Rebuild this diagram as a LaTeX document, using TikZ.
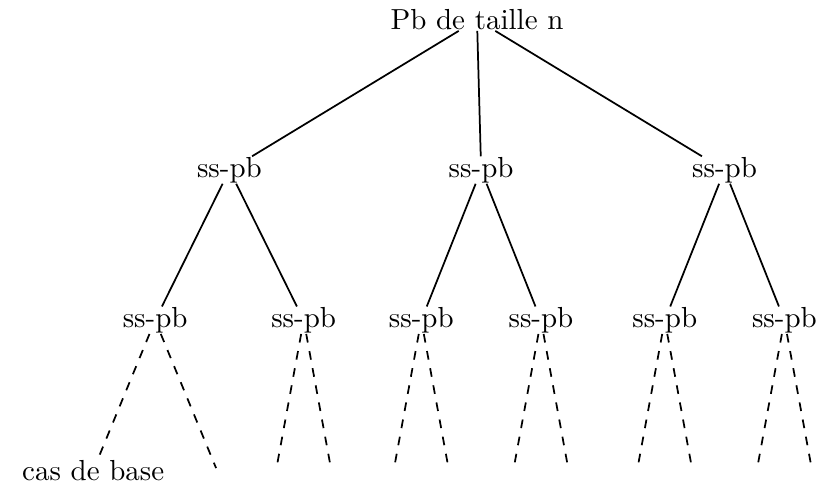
\documentclass[tikz,border=0pt]{standalone}
\usepackage{tikz}

\begin{document}
\begin{tikzpicture}[level distance=1.82cm, semithick,
	every node/.style = {inner sep=0pt},
	level 1/.style = {sibling distance=3cm},
	level 2/.style = {sibling distance=1.45cm},
	level 3/.style = {sibling distance=0.67cm, dashed}]
	\useasboundingbox (-5.78,0.24) rectangle (4.35,-5.61);
	\node (pb) at (0,0) {Pb de taille n}
		child{node (g) {ss-pb}
			child[sibling distance = 1.8cm]{node (gg) {ss-pb}
				child[sibling distance = 1.5cm]{node (base) {cas de base}}
				child[sibling distance = 1.5cm]{node (gg2) {}}}
			child[sibling distance = 1.8cm]{node (gd) {ss-pb}
				child{node (gd1) {}}
				child{node (gd2) {}}}}
		child[xshift=0.05cm]{node (m) {ss-pb}
			child{node (mg) {ss-pb}
				child{node (mg1) {}}
				child{node (mg2) {}}}
			child{node (md) {ss-pb}
				child{node (md1) {}}
				child{node (md2) {}}}}
		child{node (d) {ss-pb}
			child{node (dg) {ss-pb}
				child{node (dg1) {}}
				child{node (dg2) {}}}
			child{node (dd) {ss-pb}
				child{node (dd1) {}}
				child{node (dd2) {}}}};
\end{tikzpicture}
\end{document}
